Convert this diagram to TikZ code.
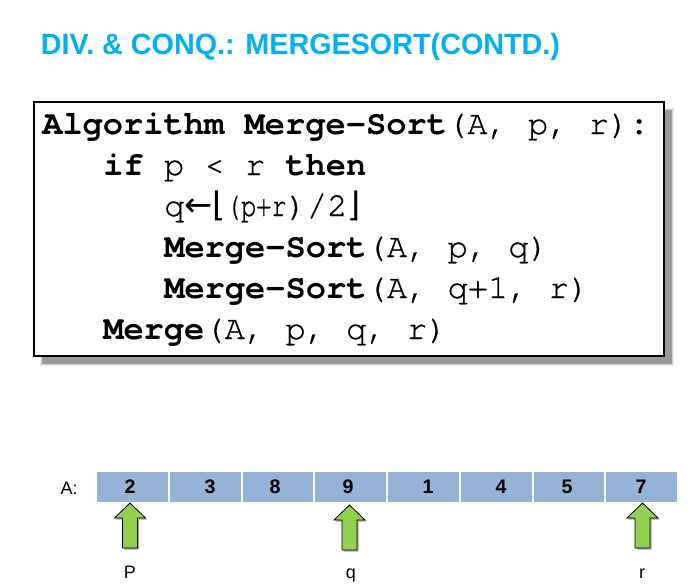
\documentclass[tikz,border=0pt]{standalone}
\usepackage{graphicx}
\usepackage{fontspec}
\setmainfont{Liberation Sans}
\newfontfamily\codefont[Extension=.otf, UprightFont=texgyrecursor-regular,
  BoldFont=texgyrecursor-bold, UprightFeatures={FakeBold=0.8}]{texgyrecursor}
\newfontfamily\symfont{DejaVu Sans}

\definecolor{titleblue}{RGB}{0,176,240}
\definecolor{cellblue}{RGB}{149,179,215}
\definecolor{arrowgreen}{RGB}{146,208,80}
\definecolor{shadowgray}{RGB}{153,153,153}

\tikzset{
  titletext/.style={anchor=base west, inner sep=0pt, text=titleblue,
    font=\fontsize{22}{26}\selectfont\bfseries},
  codeline/.style={anchor=base west, inner sep=0pt,
    font=\codefont\fontsize{25.3}{30}\selectfont},
  arraycell/.style={fill=cellblue, draw=white, line width=1.5pt,
    minimum width={72.75*0.75pt}, minimum height={32*0.75pt},
    inner sep=0pt, anchor=west},
  cellnum/.style={anchor=base, inner sep=0pt,
    font=\fontsize{14.7}{17}\selectfont\bfseries},
  plainlabel/.style={anchor=base, inner sep=0pt,
    font=\fontsize{13.5}{16}\selectfont},
  blockup/.pic={
    \fill[gray!70] (1.5,1.5) -- (17,16.5) -- (9,16.5) -- (9,46.5) --
      (-6,46.5) -- (-6,16.5) -- (-14,16.5) -- cycle;
    \draw[fill=arrowgreen, line width=0.6pt, line join=miter]
      (0,0) -- (15.5,15) -- (7.5,15) -- (7.5,45) --
      (-7.5,45) -- (-7.5,15) -- (-15.5,15) -- cycle;
  }
}

\begin{document}
\begin{tikzpicture}[x=0.75pt, y=-0.75pt]
\path[use as bounding box] (0,0) rectangle (693,586);

% heading
\node[titletext, xscale=0.98] (title) at (40.7,54) {DIV. \& CONQ.: MERGESORT(CONTD.)};

% soft drop shadow behind the code box
\fill[gray!18] (40,108) rectangle (674,366);
\fill[gray!35] (41,109) rectangle (673,365);
\fill[shadowgray] (42,110) rectangle (671.5,363.5);

% code box
\node[draw, fill=white, line width=1.5pt, anchor=north west, inner sep=0pt,
      minimum width={630*0.75pt}, minimum height={254*0.75pt}] (codebox) at (33,101) {};

\node[codeline] (l1) at (42,134) {\textbf{Algorithm Merge-Sort}(A, p, r)\textbf{:}};
\node[codeline] (l2) at (103,175) {\textbf{if} p < r \textbf{then}};
\node[codeline] (l3) at (164,216) {q{\symfont ←⌊}\scalebox{0.75}[1]{(p+r}{)/2}{\symfont ⌋}};
\node[codeline] (l4) at (164,257) {\textbf{Merge-Sort}(A, p, q)};
\node[codeline] (l5) at (164,298) {\textbf{Merge-Sort}(A, q+1, r)};
\node[codeline] (l6) at (103,339) {\textbf{Merge}(A, p, q, r)};

% the array A
\node[plainlabel, anchor=base east] (alabel) at (78,494) {A:};
\foreach \i in {0,...,7} {
  \node[arraycell] (c\i) at ({95+72.75*\i},487) {};
}
\node[cellnum] (n0) at (130,493) {2};
\node[cellnum] (n1) at (210,493) {3};
\node[cellnum] (n2) at (275,493) {8};
\node[cellnum] (n3) at (348,493) {9};
\node[cellnum] (n4) at (428,493) {1};
\node[cellnum] (n5) at (501,493) {4};
\node[cellnum] (n6) at (567,493) {5};
\node[cellnum] (n7) at (641,493) {7};

% index pointers
\coordinate (ptrp) at (130,503);
\coordinate (ptrq) at (349.5,505);
\coordinate (ptrr) at (642.5,503);
\pic at (ptrp) {blockup};
\pic at (ptrq) {blockup};
\pic at (ptrr) {blockup};

\node[plainlabel] (lp) at (130,578) {P};
\node[plainlabel] (lq) at (351,578) {q};
\node[plainlabel] (lr) at (642,578) {r};
\end{tikzpicture}
\end{document}
